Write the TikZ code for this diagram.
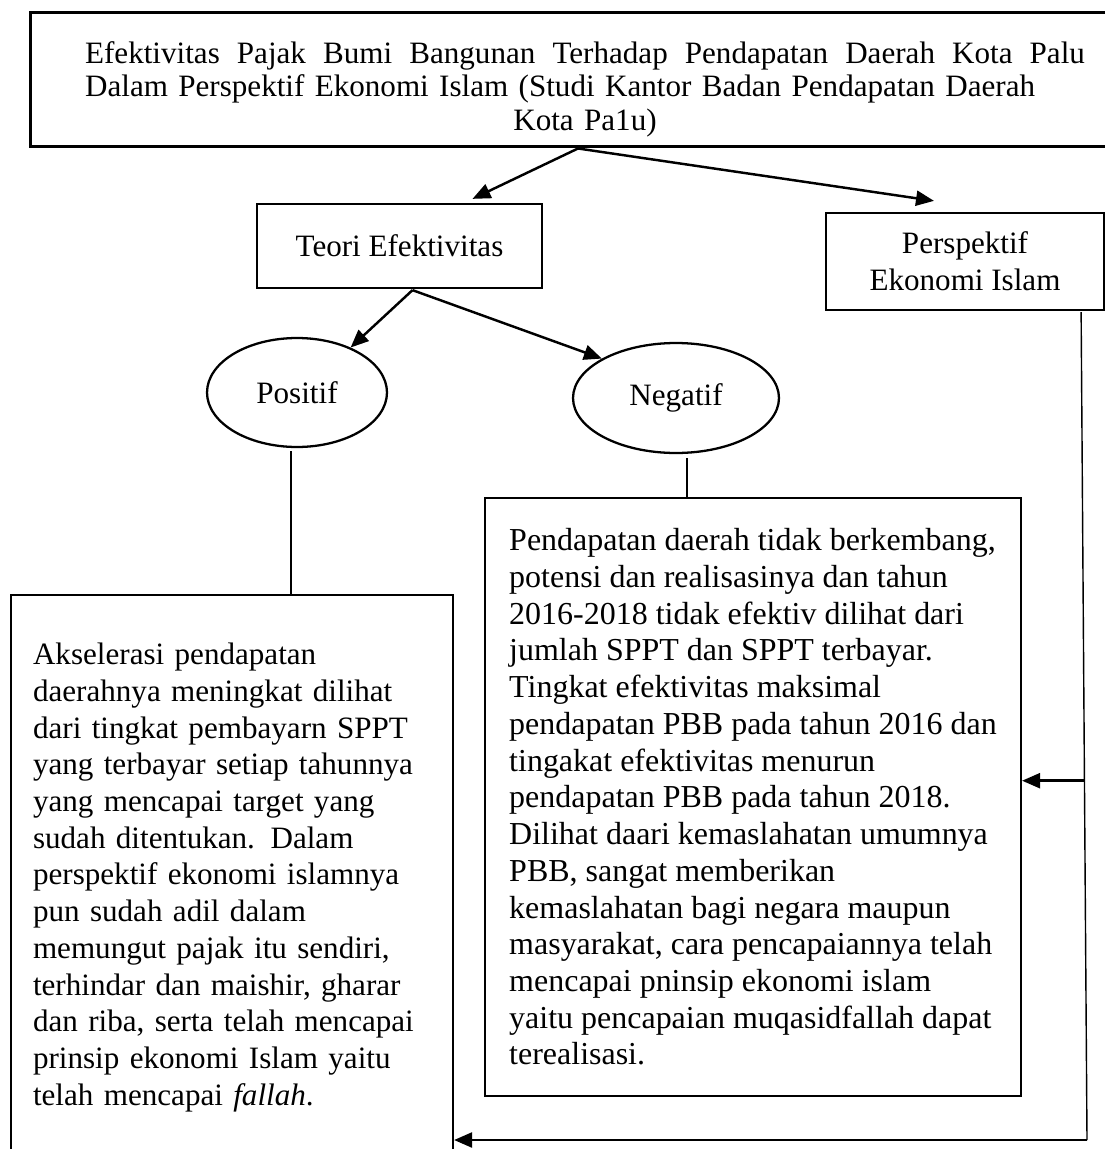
\documentclass[tikz,border=0pt]{standalone}
\usepackage{fontspec}
\setmainfont{Liberation Serif}
\usetikzlibrary{arrows.meta,calc,shapes.geometric}

\tikzset{
  txt/.style={font=\fontsize{17.7}{20.9}\selectfont},
  box/.style={txt,draw,line width=1.3pt,inner sep=0pt},
  oval/.style={txt,draw,ellipse,line width=1.3pt,inner sep=0pt},
  arr/.style={line width=1.4pt,-{Triangle[length=0.36cm,width=0.3cm]}},
  link/.style={line width=0.6pt}
}

\begin{document}
\begin{tikzpicture}[x=0.02cm,y=-0.02cm]
    \useasboundingbox (0,0) rectangle (1105,1149);

    \node[box,line width=1.7pt,text width=20cm,align=left,inner xsep=1.1cm,
      minimum height=2.7cm,font=\fontsize{17.7}{19.3}\selectfont] (title) at (585,79.5)
      {\rule{0pt}{0.83cm}Efektivitas\hfill Pajak\hfill Bumi\hfill Bangunan\hfill Terhadap\hfill Pendapatan\hfill Daerah\hfill Kota\hfill Palu\\
       Dalam Perspektif Ekonomi Islam (Studi Kantor Badan Pendapatan Daerah\\
       \hspace*{\fill}Kota Pa1u)\hspace*{\fill}\mbox{}};

    \node[box,minimum width=5.7cm,minimum height=1.68cm] (teori) at (399.5,246)
      {Teori Efektivitas};
    \node[box,align=center,minimum width=5.56cm,minimum height=1.94cm] (persp) at (965,261.5)
      {Perspektif\\Ekonomi Islam};

    \node[oval,minimum width=3.6cm,minimum height=2.18cm] (positif) at (297,392.5) {Positif};
    \node[oval,minimum width=4.12cm,minimum height=2.2cm] (negatif) at (676,398) {Negatif};

    \node[box,text width=7.96cm,align=left,minimum width=8.84cm,minimum height=11.3cm]
      (aksel) at (232,877.5)
      {Akselerasi pendapatan\\
       daerahnya meningkat dilihat\\
       dari tingkat pembayarn SPPT\\
       yang terbayar setiap tahunnya\\
       yang mencapai target yang\\
       sudah ditentukan. Dalam\\
       perspektif ekonomi islamnya\\
       pun sudah adil dalam\\
       memungut pajak itu sendiri,\\
       terhindar dan maishir, gharar\\
       dan riba, serta telah mencapai\\
       prinsip ekonomi Islam yaitu\\
       telah mencapai \textit{fallah}.};

    \node[box,align=left,minimum width=10.72cm,minimum height=11.96cm,
      font=\fontsize{18.2}{20.9}\selectfont] (negbox) at (753,797)
      {Pendapatan daerah tidak berkembang,\\
       potensi dan realisasinya dan tahun\\
       2016-2018 tidak efektiv dilihat dari\\
       jumlah SPPT dan SPPT terbayar.\\
       Tingkat efektivitas maksimal\\
       pendapatan PBB pada tahun 2016 dan\\
       tingakat efektivitas menurun\\
       pendapatan PBB pada tahun 2018.\\
       Dilihat daari kemaslahatan umumnya\\
       PBB, sangat memberikan\\
       kemaslahatan bagi negara maupun\\
       masyarakat, cara pencapaiannya telah\\
       mencapai pninsip ekonomi islam\\
       yaitu pencapaian muqasidfallah dapat\\
       terealisasi.};

    \draw[arr] ($(title.south)+(-7,0)$) -- ($(teori.north)+(73,-4)$);
    \draw[arr] ($(title.south)+(-7,0)$) -- ($(persp.north)+(-31,-11)$);
    \draw[arr] ($(teori.south)+(13,1)$) -- (positif.40);
    \draw[arr] ($(teori.south)+(13,1)$) -- (negatif.152);

    \draw[link] (positif.south) ++(-6,3) -- ($(positif.south |- aksel.north)+(-6,0)$);
    \coordinate (nj) at ($(negatif.south)+(11,4)$);
    \draw[link] (nj) -- (nj |- negbox.north);

    \coordinate (pj) at ($(persp.south east)+(-24,1)$);
    \coordinate (corner) at (1087,1140);
    \draw[link,line width=0.8pt] (pj) -- (corner);
    \coordinate (mid) at ($(pj)!0.566!(corner)$);
    \draw[arr] (mid) -- (mid -| negbox.east);
    \draw[arr] (corner) -- (corner -| aksel.east);
  \end{tikzpicture}
\end{document}
